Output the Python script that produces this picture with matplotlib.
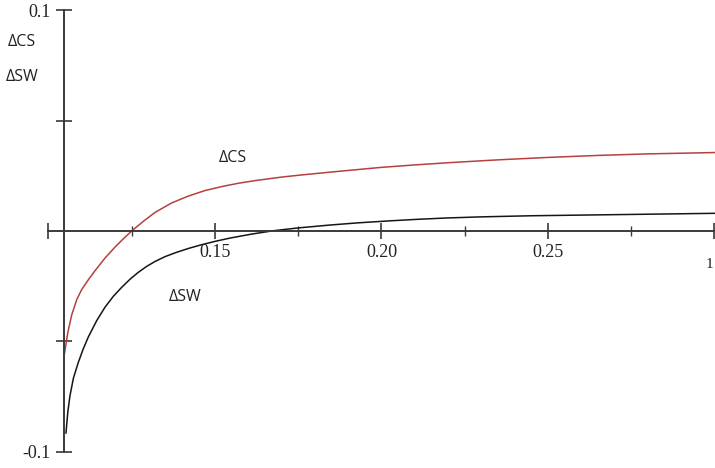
import matplotlib
matplotlib.use("Agg")
import matplotlib.pyplot as plt
from matplotlib.ticker import FixedLocator

# Change in consumer surplus (red) and social welfare (black) against x
cs_x = [0.10465, 0.1058, 0.10697, 0.1085, 0.10997, 0.1120, 0.11396, 0.1170,
        0.11997, 0.1225, 0.12498, 0.1285, 0.13198, 0.1370, 0.14198, 0.1470,
        0.15201, 0.1570, 0.16201, 0.1700, 0.17553, 0.1850, 0.2000, 0.2100,
        0.2200, 0.2350, 0.2500, 0.2650, 0.2800, 0.3000]
cs_y = [-0.0569, -0.0460, -0.0380, -0.0310, -0.0265, -0.0220, -0.0180, -0.0122,
        -0.0073, -0.0035, 0.0000, 0.0044, 0.0084, 0.0127, 0.0158, 0.0183,
        0.0201, 0.0216, 0.0228, 0.0244, 0.0253, 0.0267, 0.0288, 0.0299,
        0.0309, 0.0322, 0.0333, 0.0342, 0.0349, 0.0355]

sw_x = [0.10526, 0.1058, 0.10646, 0.1075, 0.10895, 0.1104, 0.11195, 0.1145,
        0.11697, 0.1195, 0.12198, 0.1245, 0.12697, 0.1295, 0.13198, 0.1350,
        0.13799, 0.1420, 0.14601, 0.1500, 0.15450, 0.1610, 0.16742, 0.1750,
        0.18453, 0.1930, 0.20255, 0.2110, 0.21967, 0.2300, 0.2450, 0.2650,
        0.2850, 0.3000]
sw_y = [-0.0914, -0.0820, -0.0745, -0.0665, -0.0595, -0.0535, -0.0480, -0.0405,
        -0.0345, -0.0295, -0.0255, -0.0218, -0.0187, -0.0160, -0.0138, -0.0116,
        -0.0099, -0.0079, -0.0062, -0.0047, -0.0032, -0.0014, 0.0001, 0.0014,
        0.0027, 0.0037, 0.0046, 0.0053, 0.0059, 0.0064, 0.0069, 0.0073,
        0.0077, 0.0080]

x_major = [0.10, 0.15, 0.20, 0.25, 0.30]
x_major_labels = ["", "0.15", "0.20", "0.25", ""]
x_minor = [0.125, 0.175, 0.225, 0.275]
y_major = [-0.1, -0.05, 0.05, 0.1]
y_major_labels = ["-0.1", "", "", "0.1"]

y_axis_at = 0.10465

fig = plt.figure(figsize=(7.15, 4.68), dpi=100)
ax = fig.add_axes([0.0678, 0.0342, 0.9315, 0.9444])
ax.set_xlim(0.10, 0.30)
ax.set_ylim(-0.1, 0.1)

ax.plot(cs_x, cs_y, color="#b5403f", lw=1.1, clip_on=False)
ax.plot(sw_x, sw_y, color="#151515", lw=1.1, clip_on=False)

axis_color = "#3a3a3a"
for side in ("top", "right"):
    ax.spines[side].set_visible(False)
ax.spines["left"].set_position(("data", y_axis_at))
ax.spines["bottom"].set_position(("data", 0.0))
for side in ("left", "bottom"):
    ax.spines[side].set_color(axis_color)
    ax.spines[side].set_linewidth(1.4)
    ax.spines[side].set_clip_on(False)

serif = "Liberation Serif"
ax.xaxis.set_major_locator(FixedLocator(x_major))
ax.set_xticklabels(x_major_labels, fontfamily=serif, fontsize=13)
ax.xaxis.set_minor_locator(FixedLocator(x_minor))
ax.yaxis.set_major_locator(FixedLocator(y_major))
ax.set_yticklabels(y_major_labels, fontfamily=serif, fontsize=13)
ax.tick_params(axis="x", which="major", direction="inout", length=11, width=1.2,
               color=axis_color, pad=4, labelcolor="#222")
ax.tick_params(axis="x", which="minor", direction="inout", length=7, width=1.0,
               color=axis_color)
ax.tick_params(axis="y", which="major", direction="inout", length=11, width=1.2,
               color=axis_color, pad=4, labelcolor="#222")
for t in ax.get_xticklines() + ax.get_yticklines():
    t.set_clip_on(False)

sans = "Open Sans"
ax.text(0.1554, 0.0331, "\u0394CS", fontfamily=sans, fontsize=11.5, color="#222",
        ha="center", va="center")
ax.text(0.1410, -0.0299, "\u0394SW", fontfamily=sans, fontsize=11.5, color="#222",
        ha="center", va="center")
fig.text(22 / 715, 1 - 42 / 468, "\u0394CS", fontfamily=sans, fontsize=11.5,
         color="#222", ha="center", va="center")
fig.text(22 / 715, 1 - 77 / 468, "\u0394SW", fontfamily=sans, fontsize=11.5,
         color="#222", ha="center", va="center")
fig.text(706 / 715, 1 - 264 / 468, "1", fontfamily=serif, fontsize=11,
         color="#222", ha="left", va="center")

fig.savefig("out.png", dpi=100, facecolor="white")
